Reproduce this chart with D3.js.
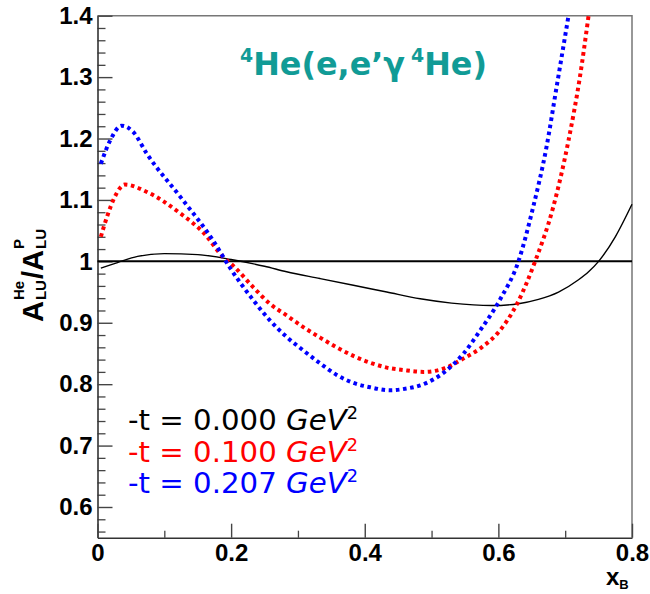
<!DOCTYPE html>
<html><head><meta charset="utf-8">
<script src="https://cdn.jsdelivr.net/npm/d3@7"></script>
<style>body{margin:0;background:#fff}svg{display:block}</style>
</head><body>
<svg id="c" width="650" height="594"></svg>
<script>
// ---- data ----
const xTicks = [0, 0.2, 0.4, 0.6, 0.8];
const xMinorTicks = [0.1, 0.3, 0.5, 0.7];
const yTicks = [0.6, 0.7, 0.8, 0.9, 1.0, 1.1, 1.2, 1.3, 1.4];
const refLine = 1.0;

const blackX = [0.005,0.03,0.06,0.1,0.15,0.2,0.25,0.283,0.333,0.383,0.433,0.483,0.53,0.59,0.63,0.66,0.69,0.72,0.735,0.75,0.775,0.8];
const blackY = [0.989,0.998,1.008,1.0125,1.011,1.003,0.992,0.983,0.972,0.961,0.950,0.939,0.932,0.928,0.931,0.938,0.950,0.970,0.983,1.0,1.040,1.093];

const redX = [0.005,0.015,0.025,0.041,0.074,0.124,0.16,0.188,0.203,0.233,0.258,0.283,0.308,0.333,0.358,0.383,0.408,0.433,0.458,0.488,0.52,0.548,0.575,0.598,0.628,0.655,0.682,0.705,0.722,0.735];
const redY = [1.04,1.075,1.103,1.125,1.113,1.078,1.045,1.007,0.993,0.958,0.931,0.912,0.893,0.876,0.860,0.846,0.835,0.827,0.823,0.82,0.826,0.842,0.86,0.882,0.931,1.0,1.088,1.197,1.30,1.40];

const blueX = [0.005,0.019,0.036,0.054,0.074,0.124,0.173,0.198,0.233,0.258,0.283,0.308,0.333,0.358,0.383,0.408,0.438,0.463,0.483,0.523,0.548,0.573,0.602,0.63,0.652,0.672,0.687,0.705];
const blueY = [1.159,1.197,1.221,1.21,1.175,1.105,1.034,0.99,0.937,0.904,0.877,0.855,0.834,0.815,0.802,0.795,0.790,0.793,0.798,0.823,0.85,0.888,0.937,1.0,1.088,1.186,1.283,1.40];

const legendValues = ["0.000", "0.100", "0.207"];
const seriesColors = ["#000000", "#ff0000", "#0000ff"];

// ---- layout ----
const L = 97.5, T = 15.7, R = 632, B = 537.7;
const svg = d3.select("#c");
const x = d3.scaleLinear().domain([0, 0.8]).range([L, R]);
const y = d3.scaleLinear().domain([0.55, 1.4]).range([B, T]);

// frame (top/right)
svg.append("path").attr("d", `M${L},${T}H${R}V${B}`).attr("fill","none").attr("stroke","#777").attr("stroke-width",1.5);

// y minor ticks
const yMinor = d3.range(0.56, 1.3999, 0.02).map(v => +v.toFixed(2)).filter(v => Math.abs(v*10 - Math.round(v*10)) > 1e-6);
svg.append("g").attr("transform",`translate(${L},0)`)
  .call(d3.axisLeft(y).tickValues(yMinor).tickSize(-8).tickFormat(""))
  .call(g => { g.select(".domain").remove(); g.selectAll("line").attr("stroke","#444").attr("stroke-width",1.3); });
// x minor ticks
svg.append("g").attr("transform",`translate(0,${B})`)
  .call(d3.axisBottom(x).tickValues(xMinorTicks).tickSize(-7).tickFormat(""))
  .call(g => { g.select(".domain").remove(); g.selectAll("line").attr("stroke","#444").attr("stroke-width",1.3); });

const fmt = d => d === 0 ? "0" : (d === 1 ? "1" : d.toFixed(1));
svg.append("g").attr("transform",`translate(${L},0)`)
  .call(d3.axisLeft(y).tickValues(yTicks).tickSize(-15).tickSizeOuter(0).tickPadding(5).tickFormat(fmt))
  .call(g => {
    g.select(".domain").attr("stroke","#333").attr("stroke-width",1.6);
    g.selectAll("line").attr("stroke","#444").attr("stroke-width",1.4);
    g.selectAll("text").attr("font-family","Liberation Sans, Arial, sans-serif").attr("font-weight","bold").attr("font-size",24).attr("fill","#000");
  });
svg.append("g").attr("transform",`translate(0,${B})`)
  .call(d3.axisBottom(x).tickValues(xTicks).tickSize(-14).tickSizeOuter(0).tickPadding(6).tickFormat(fmt))
  .call(g => {
    g.select(".domain").attr("stroke","#333").attr("stroke-width",1.6);
    g.selectAll("line").attr("stroke","#444").attr("stroke-width",1.4);
    g.selectAll("text").attr("font-family","Liberation Sans, Arial, sans-serif").attr("font-weight","bold").attr("font-size",24).attr("fill","#000");
  });

// reference line at 1
svg.append("line").attr("x1",L).attr("x2",R).attr("y1",y(refLine)).attr("y2",y(refLine)).attr("stroke","#000").attr("stroke-width",2);

const line = d3.line().x(d => x(d[0])).y(d => y(d[1])).curve(d3.curveMonotoneX);
const zip = (a,b) => a.map((v,i) => [v, b[i]]);

svg.append("path").attr("d", line(zip(blackX, blackY))).attr("fill","none").attr("stroke","#000").attr("stroke-width",1.4);
svg.append("path").attr("d", line(zip(redX, redY))).attr("fill","none").attr("stroke","#ff0000").attr("stroke-width",4).attr("stroke-dasharray","3.6,3.6");
svg.append("path").attr("d", line(zip(blueX, blueY))).attr("fill","none").attr("stroke","#0000ff").attr("stroke-width",4).attr("stroke-dasharray","3.6,3.6");

// title
const title = svg.append("text").attr("x",240).attr("y",75).attr("fill","#119b96")
  .attr("font-family","DejaVu Sans, sans-serif").attr("font-weight","bold").attr("font-size",32);
title.append("tspan").text("4").attr("font-size",19).attr("dy",-13);
title.append("tspan").text("He(e,e\u2019\u03b3").attr("dy",13);
title.append("tspan").text("4").attr("font-size",19).attr("dy",-13).attr("dx",6);
title.append("tspan").text("He)").attr("dy",13);
title.attr("textLength",247).attr("lengthAdjust","spacingAndGlyphs");

// legend
const baseY = [430, 462, 493];
legendValues.forEach((v,i) => {
  const t = svg.append("text").attr("x",128).attr("y",baseY[i]).attr("fill",seriesColors[i])
    .attr("font-family","DejaVu Sans, sans-serif").attr("font-size",28);
  t.append("tspan").text(`-t = ${v} `);
  t.append("tspan").text("GeV").attr("font-style","italic");
  t.append("tspan").text("2").attr("font-size",17).attr("dy",-11);
  t.attr("textLength",230).attr("lengthAdjust","spacingAndGlyphs");
});

// y axis label
const yl = svg.append("g").attr("transform","translate(43,322) rotate(-90)")
  .attr("font-family","Liberation Sans, Arial, sans-serif").attr("font-weight","bold").attr("fill","#000");
let u = 0;
const big = 29, small = 15;
function addText(str, size, uu, v){
  const t = yl.append("text").attr("x",uu).attr("y",v).attr("font-size",size).text(str);
  return t.node().getComputedTextLength();
}
u += addText("A", big, u, 0);
let w1 = addText("He", small, u+1, -19);
let w2 = addText("LU", small, u+1, 3);
u += Math.max(w1,w2) + 2;
u += addText("/", big, u, 0);
u += addText("A", big, u, 0);
w1 = addText("P", small, u+1, -19);
w2 = addText("LU", small, u+1, 3);

// x axis label
const xl = svg.append("text").attr("x",606).attr("y",585).attr("font-family","Liberation Sans, Arial, sans-serif").attr("font-weight","bold").attr("fill","#000");
xl.append("tspan").text("x").attr("font-size",24);
xl.append("tspan").text("B").attr("font-size",13).attr("dy",4);
</script>
</body></html>
